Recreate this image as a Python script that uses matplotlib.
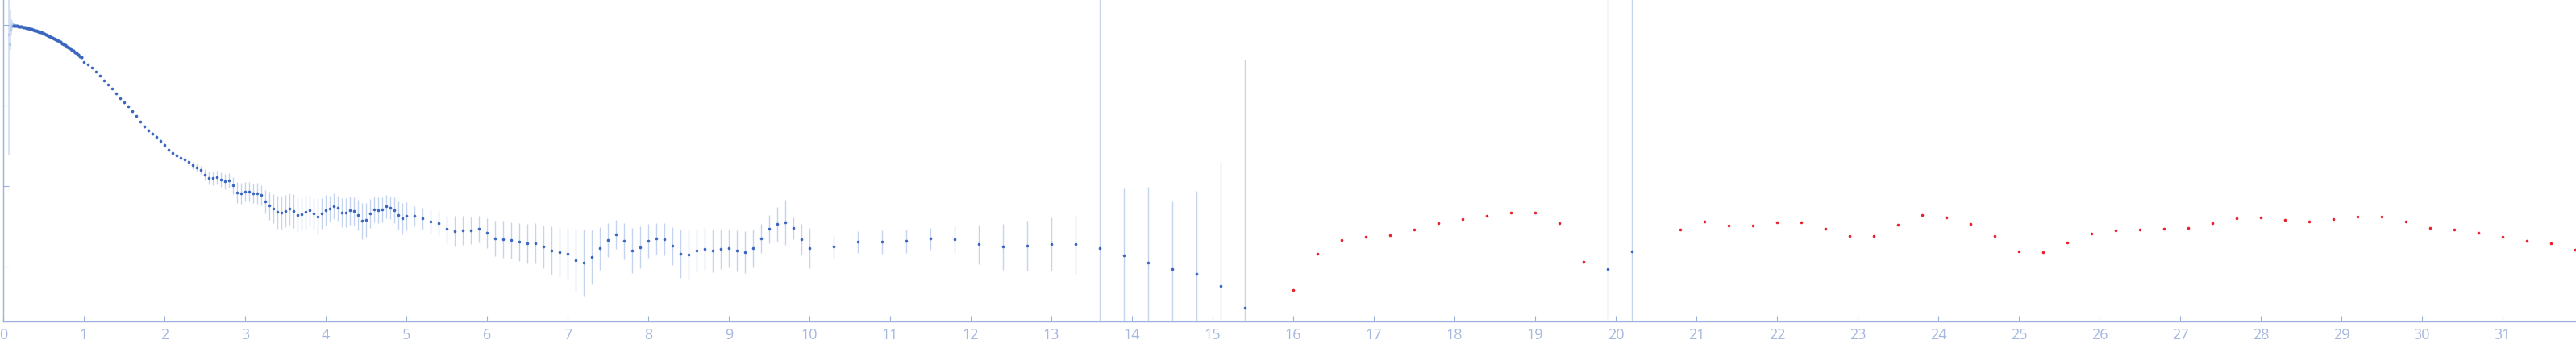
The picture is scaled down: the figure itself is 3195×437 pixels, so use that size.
import matplotlib.pyplot as plt

# log10 I(q) (normalised, I(0) ~ 1)

# first few points, drawn lighter
q_low = [0.067, 0.075, 0.085, 0.095, 0.105, 0.115, 0.125]
logi_low = [-0.125, -0.245, -0.065, -0.025, -0.005, 0.0, -0.002]
err_low = [1.5, 0.68, 0.25, 0.10, 0.05, 0.03, 0.02]

# dense low-q part (error bars too small to see)
q_curve = [0.13, 0.15, 0.17, 0.19, 0.21, 0.23, 0.25, 0.27, 0.29, 0.31,
           0.33, 0.35, 0.37, 0.39, 0.41, 0.43, 0.45, 0.47, 0.49, 0.51,
           0.53, 0.55, 0.57, 0.59, 0.61, 0.63, 0.65, 0.67, 0.69, 0.71,
           0.73, 0.75, 0.77, 0.79, 0.81, 0.83, 0.85, 0.87, 0.89, 0.91,
           0.93, 0.95, 0.97]
logi_curve = [-0.011, -0.014, -0.018, -0.021, -0.025, -0.029, -0.033, -0.037, -0.042, -0.047,
              -0.053, -0.059, -0.065, -0.071, -0.077, -0.084, -0.091, -0.099, -0.107, -0.115,
              -0.123, -0.132, -0.141, -0.151, -0.161, -0.172, -0.183, -0.194, -0.206, -0.218,
              -0.230, -0.243, -0.256, -0.270, -0.284, -0.298, -0.311, -0.326, -0.342, -0.358,
              -0.374, -0.391, -0.408]

# binned points with error bars (half-width in decades)
q = [1.00, 1.05, 1.10, 1.15, 1.20, 1.25, 1.30, 1.35, 1.40, 1.45,
     1.50, 1.55, 1.60, 1.65, 1.70, 1.75, 1.80, 1.85, 1.90, 1.95,
     2.00, 2.05, 2.10, 2.15, 2.20, 2.25, 2.30, 2.35, 2.40, 2.45,
     2.50, 2.55, 2.60, 2.65, 2.70, 2.75, 2.80, 2.85, 2.90, 2.95,
     3.00, 3.05, 3.10, 3.15, 3.20, 3.25, 3.30, 3.35, 3.40, 3.45,
     3.50, 3.55, 3.60, 3.65, 3.70, 3.75, 3.80, 3.85, 3.90, 3.95,
     4.00, 4.05, 4.10, 4.15, 4.20, 4.25, 4.30, 4.35, 4.40, 4.45,
     4.50, 4.55, 4.60, 4.65, 4.70, 4.75, 4.80, 4.85, 4.90, 4.95,
     5.0, 5.1, 5.2, 5.3, 5.4, 5.5, 5.6, 5.7, 5.8, 5.9,
     6.0, 6.1, 6.2, 6.3, 6.4, 6.5, 6.6, 6.7, 6.8, 6.9,
     7.0, 7.1, 7.2, 7.3, 7.4, 7.5, 7.6, 7.7, 7.8, 7.9,
     8.0, 8.1, 8.2, 8.3, 8.4, 8.5, 8.6, 8.7, 8.8, 8.9,
     9.0, 9.1, 9.2, 9.3, 9.4, 9.5, 9.6, 9.7, 9.8, 9.9,
     10.0, 10.3, 10.6, 10.9, 11.2, 11.5, 11.8, 12.1, 12.4, 12.7,
     13.0, 13.3, 13.6, 13.9, 14.2, 14.5, 14.8, 15.1, 15.4,
     19.9, 20.2]
logi = [-0.468, -0.498, -0.538, -0.588, -0.638, -0.698, -0.748, -0.798, -0.858, -0.918,
        -0.968, -1.018, -1.078, -1.138, -1.208, -1.268, -1.318, -1.358, -1.398, -1.448,
        -1.498, -1.558, -1.598, -1.628, -1.658, -1.678, -1.708, -1.748, -1.778, -1.808,
        -1.868, -1.908, -1.908, -1.898, -1.928, -1.948, -1.938, -1.998, -2.088, -2.098,
        -2.078, -2.078, -2.098, -2.098, -2.118, -2.198, -2.248, -2.288, -2.328, -2.338,
        -2.318, -2.288, -2.318, -2.368, -2.358, -2.328, -2.308, -2.348, -2.388, -2.348,
        -2.308, -2.288, -2.258, -2.278, -2.338, -2.338, -2.308, -2.318, -2.368, -2.438,
        -2.428, -2.348, -2.298, -2.308, -2.298, -2.258, -2.278, -2.308, -2.368, -2.408,
        -2.378, -2.378, -2.408, -2.448, -2.468, -2.538, -2.568, -2.558, -2.558, -2.538,
        -2.588, -2.658, -2.668, -2.678, -2.698, -2.718, -2.718, -2.758, -2.808, -2.828,
        -2.848, -2.928, -2.958, -2.888, -2.778, -2.678, -2.608, -2.688, -2.808, -2.768,
        -2.688, -2.658, -2.668, -2.748, -2.848, -2.858, -2.808, -2.788, -2.808, -2.788,
        -2.778, -2.808, -2.828, -2.778, -2.658, -2.538, -2.478, -2.458, -2.528, -2.668,
        -2.778, -2.758, -2.698, -2.698, -2.688, -2.658, -2.668, -2.728, -2.758, -2.748,
        -2.728, -2.728, -2.778, -2.868, -2.958, -3.038, -3.098, -3.248, -3.518,
        -3.038, -2.818]
err = [0.008, 0.008, 0.009, 0.009, 0.010, 0.010, 0.011, 0.011, 0.012, 0.012,
       0.013, 0.014, 0.015, 0.016, 0.017, 0.018, 0.019, 0.020, 0.022, 0.024,
       0.027, 0.030, 0.030, 0.030, 0.030, 0.030, 0.035, 0.045, 0.050, 0.050,
       0.070, 0.080, 0.083, 0.082, 0.090, 0.095, 0.090, 0.105, 0.130, 0.130,
       0.120, 0.120, 0.120, 0.130, 0.125, 0.145, 0.175, 0.180, 0.205, 0.205,
       0.200, 0.195, 0.210, 0.210, 0.200, 0.205, 0.190, 0.195, 0.220, 0.190,
       0.190, 0.160, 0.160, 0.155, 0.180, 0.180, 0.175, 0.175, 0.190, 0.225,
       0.210, 0.180, 0.160, 0.160, 0.155, 0.145, 0.140, 0.160, 0.175, 0.195,
       0.175, 0.125, 0.135, 0.145, 0.150, 0.175, 0.190, 0.180, 0.170, 0.165,
       0.185, 0.220, 0.230, 0.225, 0.235, 0.245, 0.250, 0.265, 0.300, 0.310,
       0.320, 0.385, 0.415, 0.340, 0.265, 0.210, 0.180, 0.225, 0.280, 0.260,
       0.210, 0.195, 0.200, 0.235, 0.300, 0.305, 0.270, 0.260, 0.265, 0.245,
       0.235, 0.255, 0.260, 0.235, 0.180, 0.175, 0.215, 0.280, 0.135, 0.190,
       0.250, 0.145, 0.135, 0.145, 0.145, 0.137, 0.170, 0.245, 0.285, 0.310,
       0.330, 0.367, 3.5, 0.83, 0.94, 0.84, 1.03, 1.54, 3.08,
       4.5, 4.5]

# negative intensities, plotted as log10|I| in red
q_neg = [16.0, 16.3, 16.6, 16.9, 17.2, 17.5, 17.8, 18.1, 18.4, 18.7,
         19.0, 19.3, 19.6, 20.8, 21.1, 21.4, 21.7, 22.0, 22.3, 22.6,
         22.9, 23.2, 23.5, 23.8, 24.1, 24.4, 24.7, 25.0, 25.3, 25.6,
         25.9, 26.2, 26.5, 26.8, 27.1, 27.4, 27.7, 28.0, 28.3, 28.6,
         28.9, 29.2, 29.5, 29.8, 30.1, 30.4, 30.7, 31.0, 31.3, 31.6, 31.9]
logi_neg = [-3.298, -2.848, -2.678, -2.638, -2.618, -2.548, -2.468, -2.418, -2.378, -2.338,
            -2.338, -2.468, -2.948, -2.548, -2.448, -2.498, -2.498, -2.458, -2.458, -2.538,
            -2.628, -2.628, -2.488, -2.368, -2.398, -2.478, -2.628, -2.818, -2.828, -2.708,
            -2.598, -2.558, -2.548, -2.538, -2.528, -2.468, -2.408, -2.398, -2.428, -2.448,
            -2.418, -2.388, -2.388, -2.448, -2.528, -2.548, -2.588, -2.638, -2.688, -2.718, -2.798]

x_ticks = list(range(0, 32))
y_ticks = [0, -1, -2, -3]

axis_col = '#9bb0dc'
label_col = '#a7b8df'
bar_col = '#c4d4ee'
dot_col = '#3a66bf'
light_col = '#b4c8ea'
red_col = '#e8202b'

W, H = 3195, 437
fig = plt.figure(figsize=(W / 100, H / 100), dpi=100)
ax = fig.add_axes([4 / W, 38 / H, (W - 4) / W, 399 / H])

ax.errorbar(q_low, logi_low, yerr=err_low, fmt='none', ecolor='#d3def2', elinewidth=1.2, zorder=1)
ax.plot(q_low, logi_low, 'o', ms=2.6, mew=0, color=light_col, zorder=2)

ax.errorbar(q, logi, yerr=err, fmt='none', ecolor=bar_col, elinewidth=1.0, zorder=1)
ax.plot(q_curve, logi_curve, 'o', ms=3.0, mew=0, color=dot_col, zorder=3)
ax.plot(q, logi, 'o', ms=2.6, mew=0, color=dot_col, zorder=3)
ax.plot(q_neg, logi_neg, 'o', ms=2.6, mew=0, color=red_col, zorder=3)

ax.set_xlim(0, 31.91)
ax.set_ylim(-3.685, 0.305)

for s in ['top', 'right']:
    ax.spines[s].set_visible(False)
for s in ['left', 'bottom']:
    ax.spines[s].set_color(axis_col)
    ax.spines[s].set_linewidth(1.0)

ax.set_xticks(x_ticks)
ax.set_yticks(y_ticks)
ax.set_yticklabels([])
ax.tick_params(direction='in', length=5, width=0.8, color=axis_col,
               labelcolor=label_col, labelsize=13, pad=6)
for lab in ax.get_xticklabels():
    lab.set_family(['Open Sans', 'DejaVu Sans'])

fig.savefig('out.png', dpi=100)
